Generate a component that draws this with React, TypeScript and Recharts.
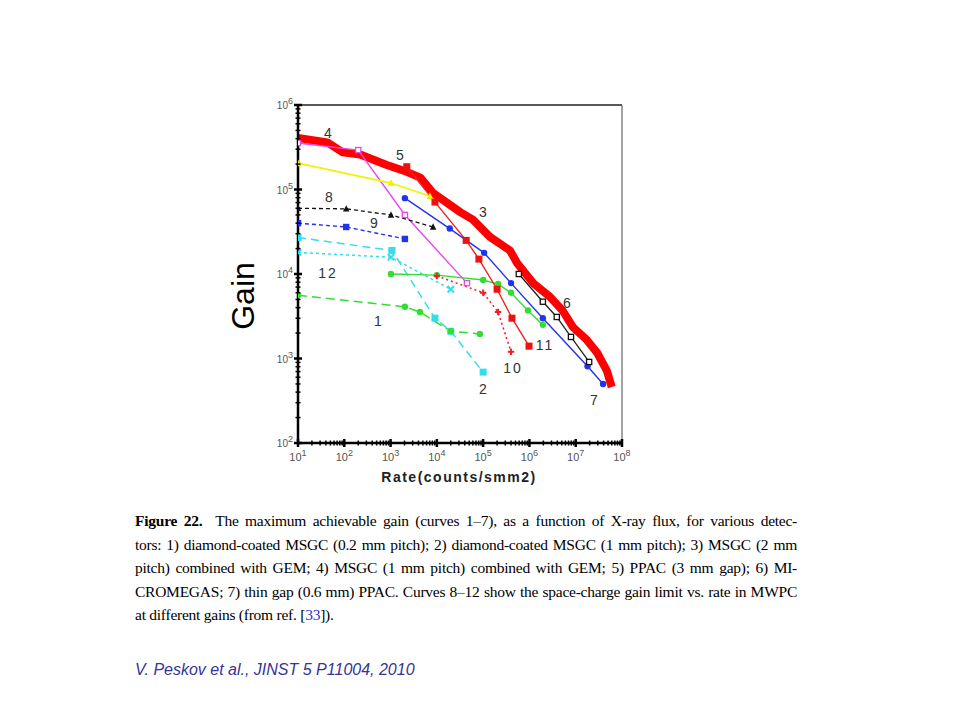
import {
  LineChart,
  Line,
  XAxis,
  YAxis,
  ReferenceLine,
} from 'recharts';

// decades and minor multipliers for the log axes
const rateDecades = [10, 1e2, 1e3, 1e4, 1e5, 1e6, 1e7, 1e8];
const gainDecades = [1e2, 1e3, 1e4, 1e5, 1e6];
const minorSteps = [2, 3, 4, 5, 6, 7, 8, 9];

// thick red envelope
const envelopeRate = [10, 43, 93, 220, 830, 2240, 4400, 8300, 3.2e4, 6.0e4, 1.4e5, 3.8e5, 5.4e5, 1.2e6, 2.75e6, 5.2e6, 8.7e6, 1.74e7, 2.9e7, 4.7e7, 6.0e7];
const envelopeGain = [4.07e5, 3.6e5, 2.75e5, 2.6e5, 1.95e5, 1.62e5, 1.38e5, 9.1e4, 5.4e4, 4.4e4, 2.75e4, 1.9e4, 1.35e4, 7.8e3, 5.4e3, 3.7e3, 2.35e3, 1.66e3, 1.17e3, 7.2e2, 4.6e2];

// curve 4 (magenta)
const magentaRate = [10, 200, 2040, 4.47e4];
const magentaGain = [3.55e5, 2.93e5, 5.0e4, 7.8e3];

// yellow curve
const yellowRate = [10, 1020, 7100];
const yellowGain = [2.05e5, 1.19e5, 8.3e4];

// curve 5 / 11 (red squares)
const redRate = [2240, 9100, 4.3e4, 8.1e4, 2.0e5, 4.2e5, 9.8e5];
const redGain = [1.86e5, 7.1e4, 2.5e4, 1.5e4, 6.6e3, 3.0e3, 1.4e3];

// blue circles (3 / 7)
const blueRate = [2040, 1.9e4, 1.05e5, 4.0e5, 1.95e6, 1.8e7, 3.9e7];
const blueGain = [7.9e4, 3.45e4, 1.78e4, 7.8e3, 3.0e3, 8.1e2, 5.0e2];

// curve 6 (black open squares)
const blackRate = [5.9e5, 1.95e6, 3.9e6, 7.9e6, 1.95e7];
const blackGain = [1.0e4, 4.7e3, 3.1e3, 1.8e3, 9.1e2];

// curve 8 (black dashed triangles)
const c8Rate = [10, 110, 1020, 8300];
const c8Gain = [6.0e4, 5.9e4, 5.0e4, 3.6e4];

// curve 9 (blue dashed squares)
const c9Rate = [10, 110, 2040];
const c9Gain = [4.0e4, 3.6e4, 2.6e4];

// curve 2 (cyan long dash squares)
const c2Rate = [10, 1070, 9100, 2.0e4, 1.0e5];
const c2Gain = [2.7e4, 1.9e4, 3.0e3, 2.1e3, 6.9e2];

// curve 12 (cyan short dash crosses)
const c12Rate = [10, 1020, 2.0e4];
const c12Gain = [1.8e4, 1.58e4, 6.6e3];

// green solid
const greenRate = [1020, 1.0e4, 1.0e5, 2.1e5, 4.0e5, 9.3e5, 1.95e6];
const greenGain = [1.0e4, 9.7e3, 8.5e3, 7.6e3, 6.0e3, 3.7e3, 2.5e3];

// curve 1 (green dashed)
const c1Rate = [10, 2040, 4300, 2.0e4, 8.5e4];
const c1Gain = [5.6e3, 4.1e3, 3.55e3, 2.1e3, 1.95e3];

// curve 10 (red dotted pluses)
const c10Rate = [1.0e4, 1.0e5, 2.1e5, 4.0e5];
const c10Gain = [9.5e3, 6.0e3, 3.55e3, 1.2e3];

const curveLabels = [
  { text: '4', x: 328, y: 133 },
  { text: '5', x: 400, y: 155 },
  { text: '3', x: 483, y: 212 },
  { text: '8', x: 329, y: 197 },
  { text: '9', x: 374, y: 223 },
  { text: '12', x: 328, y: 273 },
  { text: '1', x: 378, y: 321 },
  { text: '2', x: 483, y: 389 },
  { text: '10', x: 513, y: 368 },
  { text: '11', x: 545, y: 345 },
  { text: '6', x: 567, y: 303 },
  { text: '7', x: 594, y: 400 },
];

const pts = (xs: number[], ys: number[]) => xs.map((x, i) => ({ x, y: ys[i] }));

const withMinors = (decades: number[]) => {
  const out: number[] = [];
  decades.forEach((d, i) => {
    out.push(d);
    if (i < decades.length - 1) minorSteps.forEach((m) => out.push(m * d));
  });
  return out;
};

const isMajor = (v: number) => {
  const l = Math.log10(v);
  return Math.abs(l - Math.round(l)) < 1e-6;
};

const XTick = (props: any) => {
  const { x, y, payload } = props;
  const major = isMajor(payload.value);
  const h = major ? 4 : 2.5;
  return (
    <g>
      <line x1={x} x2={x} y1={y - h} y2={y + h} stroke="#000" strokeWidth={major ? 2.5 : 1.5} />
      {major && (
        <text x={x} y={y + 18} textAnchor="middle" fill="#555" fontSize={11} fontFamily="Liberation Sans, Arial, sans-serif">
          10<tspan fontSize={9} dy={-5}>{Math.round(Math.log10(payload.value))}</tspan>
        </text>
      )}
    </g>
  );
};

const YTick = (props: any) => {
  const { x, y, payload } = props;
  const major = isMajor(payload.value);
  const h = major ? 4 : 2.5;
  return (
    <g>
      <line x1={x - h} x2={x + h} y1={y} y2={y} stroke="#000" strokeWidth={major ? 2.5 : 1.5} />
      {major && (
        <text x={x - 5} y={y + 4} textAnchor="end" fill="#555" fontSize={10} fontFamily="Liberation Sans, Arial, sans-serif">
          10<tspan fontSize={9} dy={-5}>{Math.round(Math.log10(payload.value))}</tspan>
        </text>
      )}
    </g>
  );
};

type Shape = 'square' | 'openSquare' | 'circle' | 'triangle' | 'plus' | 'cross';

const marker = (shape: Shape, color: string, size = 3.2) => (props: any) => {
  const { cx, cy, index } = props;
  const key = `${shape}-${color}-${index}`;
  if (cx == null || cy == null) return <g key={key} />;
  const s = size;
  switch (shape) {
    case 'square':
      return <rect key={key} x={cx - s} y={cy - s} width={2 * s} height={2 * s} fill={color} />;
    case 'openSquare':
      return <rect key={key} x={cx - s + 0.6} y={cy - s + 0.6} width={2 * s - 1.2} height={2 * s - 1.2} fill="#fff" stroke={color} strokeWidth={1.3} />;
    case 'circle':
      return <circle key={key} cx={cx} cy={cy} r={s} fill={color} />;
    case 'triangle':
      return <polygon key={key} points={`${cx},${cy - s - 0.5} ${cx - s},${cy + s - 0.5} ${cx + s},${cy + s - 0.5}`} fill={color} />;
    case 'plus':
      return (
        <g key={key} stroke={color} strokeWidth={2}>
          <line x1={cx - s} x2={cx + s} y1={cy} y2={cy} />
          <line x1={cx} x2={cx} y1={cy - s} y2={cy + s} />
        </g>
      );
    case 'cross':
    default:
      return (
        <g key={key} stroke={color} strokeWidth={2}>
          <line x1={cx - s} x2={cx + s} y1={cy - s} y2={cy + s} />
          <line x1={cx - s} x2={cx + s} y1={cy + s} y2={cy - s} />
        </g>
      );
  }
};

const font = 'Liberation Sans, Arial, sans-serif';

export default function App() {
  return (
    <div style={{ position: 'relative', width: 960, height: 720, background: '#fff' }}>
      <style>{'body{margin:0}'}</style>
      <LineChart width={960} height={720} margin={{ top: 105, right: 338, bottom: 227, left: 248 }}>
        <XAxis
          type="number"
          dataKey="x"
          scale="log"
          domain={[10, 1e8]}
          allowDataOverflow
          ticks={withMinors(rateDecades)}
          tick={<XTick />}
          tickSize={0}
          tickMargin={0}
          tickLine={false}
          interval={0}
          height={50}
          axisLine={{ stroke: '#000', strokeWidth: 2.5 }}
        />
        <YAxis
          type="number"
          dataKey="y"
          scale="log"
          domain={[100, 1e6]}
          allowDataOverflow
          ticks={withMinors(gainDecades)}
          tick={<YTick />}
          tickSize={0}
          tickMargin={0}
          tickLine={false}
          interval={0}
          width={50}
          axisLine={{ stroke: '#000', strokeWidth: 2.5 }}
        />
        <ReferenceLine y={1e6} stroke="#222" strokeWidth={1.6} />
        <ReferenceLine x={1e8} stroke="#666" strokeWidth={1.2} />

        <Line data={pts(envelopeRate, envelopeGain)} dataKey="y" stroke="#ff0000" strokeWidth={8} strokeLinejoin="round" dot={false} isAnimationActive={false} />

        <Line data={pts(magentaRate, magentaGain)} dataKey="y" stroke="#ee44ee" strokeWidth={1.4} dot={marker('openSquare', '#ee44ee')} isAnimationActive={false} />
        <Line data={pts(yellowRate, yellowGain)} dataKey="y" stroke="#f2f200" strokeWidth={1.6} dot={marker('triangle', '#f0f000', 3.5)} isAnimationActive={false} />
        <Line data={pts(c8Rate, c8Gain)} dataKey="y" stroke="#111" strokeWidth={1.3} strokeDasharray="4 3" dot={marker('triangle', '#111')} isAnimationActive={false} />
        <Line data={pts(c9Rate, c9Gain)} dataKey="y" stroke="#2233ee" strokeWidth={1.4} strokeDasharray="4 3" dot={marker('square', '#2233ee')} isAnimationActive={false} />
        <Line data={pts(c2Rate, c2Gain)} dataKey="y" stroke="#33ddee" strokeWidth={1.5} strokeDasharray="8 5" dot={marker('square', '#33ddee', 3.5)} isAnimationActive={false} />
        <Line data={pts(c12Rate, c12Gain)} dataKey="y" stroke="#33ddee" strokeWidth={1.5} strokeDasharray="3 3" dot={marker('cross', '#33ddee')} isAnimationActive={false} />
        <Line data={pts(c1Rate, c1Gain)} dataKey="y" stroke="#33dd33" strokeWidth={1.5} strokeDasharray="9 5" dot={marker('circle', '#33dd33')} isAnimationActive={false} />
        <Line data={pts(greenRate, greenGain)} dataKey="y" stroke="#33dd33" strokeWidth={1.4} dot={marker('circle', '#33dd33')} isAnimationActive={false} />
        <Line data={pts(c10Rate, c10Gain)} dataKey="y" stroke="#ee2222" strokeWidth={1.5} strokeDasharray="2 3" dot={marker('plus', '#ee2222')} isAnimationActive={false} />
        <Line data={pts(redRate, redGain)} dataKey="y" stroke="#ee2222" strokeWidth={1.4} dot={marker('square', '#ee1111', 3.5)} isAnimationActive={false} />
        <Line data={pts(blueRate, blueGain)} dataKey="y" stroke="#2233ee" strokeWidth={1.4} dot={marker('circle', '#2233ee')} isAnimationActive={false} />
        <Line data={pts(blackRate, blackGain)} dataKey="y" stroke="#222" strokeWidth={1.3} dot={marker('openSquare', '#111')} isAnimationActive={false} />
      </LineChart>

      {curveLabels.map((l) => (
        <div
          key={l.text}
          style={{
            position: 'absolute',
            left: l.x,
            top: l.y,
            transform: 'translate(-50%, -50%)',
            fontFamily: font,
            fontSize: 14,
            color: '#333',
            letterSpacing: l.text.length > 1 ? 2 : 0,
            lineHeight: 1,
          }}
        >
          {l.text}
        </div>
      ))}

      <div
        style={{
          position: 'absolute',
          left: 243,
          top: 296,
          transform: 'translate(-50%, -50%) rotate(-90deg)',
          fontFamily: font,
          fontSize: 32,
          color: '#000',
          lineHeight: 1,
        }}
      >
        Gain
      </div>

      <div
        style={{
          position: 'absolute',
          left: 459,
          top: 477,
          transform: 'translate(-50%, -50%)',
          fontFamily: font,
          fontSize: 14,
          fontWeight: 'bold',
          letterSpacing: 1.5,
          color: '#222',
          lineHeight: 1,
          whiteSpace: 'nowrap',
        }}
      >
        Rate(counts/smm2)
      </div>

      <div
        style={{
          position: 'absolute',
          left: 135,
          top: 509,
          width: 662,
          fontFamily: 'Liberation Serif, Times New Roman, serif',
          fontSize: 15.5,
          letterSpacing: -0.25,
          lineHeight: '23.6px',
          color: '#000',
        }}
      >
        {[
          <>
            <b>Figure 22.</b>&nbsp; The maximum achievable gain (curves 1–7), as a function of X-ray flux, for various detec-
          </>,
          <>tors: 1) diamond-coated MSGC (0.2 mm pitch); 2) diamond-coated MSGC (1 mm pitch); 3) MSGC (2 mm</>,
          <>pitch) combined with GEM; 4) MSGC (1 mm pitch) combined with GEM; 5) PPAC (3 mm gap); 6) MI-</>,
          <>CROMEGAS; 7) thin gap (0.6 mm) PPAC. Curves 8–12 show the space-charge gain limit vs. rate in MWPC</>,
        ].map((line, i) => (
          <div key={i} style={{ textAlign: 'justify', textAlignLast: 'justify', whiteSpace: 'nowrap' }}>
            {line}
          </div>
        ))}
        <div>
          at different gains (from ref. [<span style={{ color: '#3333cc' }}>33</span>]).
        </div>
      </div>

      <div
        style={{
          position: 'absolute',
          left: 135,
          top: 660,
          fontFamily: font,
          fontStyle: 'italic',
          fontSize: 16,
          color: '#333399',
          lineHeight: '20px',
          whiteSpace: 'nowrap',
        }}
      >
        V. Peskov et al., JINST 5 P11004, 2010
      </div>
    </div>
  );
}
